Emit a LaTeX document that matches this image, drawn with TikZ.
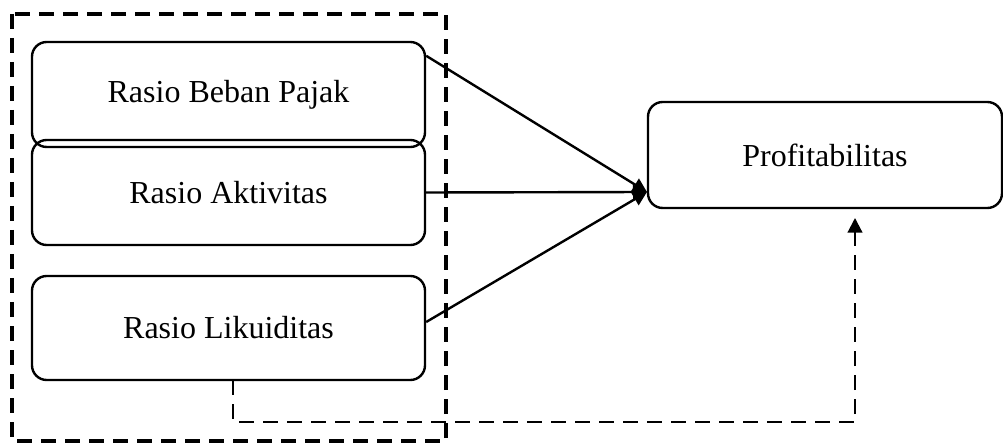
\documentclass[tikz,border=0pt]{standalone}
\usepackage{fontspec}
\setmainfont{Liberation Serif}
\usetikzlibrary{arrows.meta,calc}
\begin{document}
\begin{tikzpicture}[x=0.75pt,y=-0.75pt,
  box/.style={draw,line width=1.8pt,rounded corners=11pt,minimum width=294.75pt,align=center,font=\fontsize{24}{28}\selectfont,inner sep=0pt},
  conn/.style={line width=1.8pt,-{Triangle[length=10.5pt,width=10.5pt]}},
  outer/.style={draw,line width=2.5pt,dash pattern=on 11pt off 7pt},
  dconn/.style={line width=1.6pt,dash pattern=on 11pt off 7pt,-{Triangle[length=11pt,width=11pt]}}]
\useasboundingbox (0,0) rectangle (1003,445);
\draw[outer] (12,14) rectangle (446,441);
\node[box,minimum height=78.75pt] (b1) at (228.5,94.5) {Rasio Beban Pajak};
\node[box,minimum height=78.75pt] (b2) at (228.5,192.5) {Rasio Aktivitas};
\node[box,minimum height=78pt] (b3) at (228.5,328) {Rasio Likuiditas};
\node[box,minimum width=265.5pt,minimum height=79.5pt] (p) at (825,155) {Profitabilitas};
\coordinate (tip) at (647,192);
\coordinate (s1) at ($(b1.north east)+(0,15)$);
\coordinate (s3) at ($(b3.east)+(0,-6)$);
\draw[conn] (s1) -- (tip);
\draw[conn] (b2.east) -- (tip);
\draw[conn] (s3) -- (tip);
\coordinate (d0) at (233,380);
\coordinate (d1) at (233,422);
\coordinate (d2) at (855,422);
\coordinate (d3) at (855,218);
\draw[dconn] (d0) -- (d1) -- (d2) -- (d3);
\end{tikzpicture}
\end{document}
